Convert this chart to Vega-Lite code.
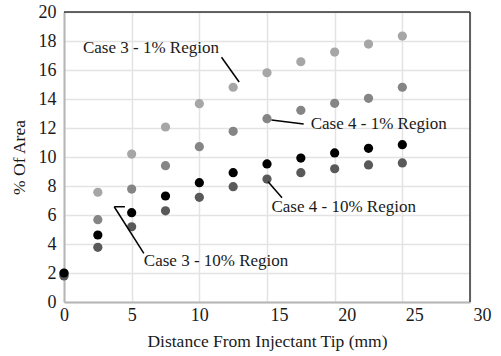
{
  "$schema": "https://vega.github.io/schema/vega-lite/v6.json",
  "width": 406,
  "height": 290,
  "autosize": "none",
  "padding": {"left": 64, "top": 12, "right": 31, "bottom": 54},
  "background": "white",
  "config": {
    "view": {"stroke": null},
    "font": "Liberation Serif",
    "axis": {
      "labelOverlap": false, "labelFont": "Liberation Serif", "titleFont": "Liberation Serif",
      "grid": true, "gridColor": "#e3e3e3", "gridWidth": 1.5,
      "ticks": false, "domainColor": "#b5b5b5", "domainWidth": 2,
      "labelFontSize": 18, "labelColor": "#1a1a1a", "labelFlush": false,
      "titleFontSize": 17.5, "titleFontWeight": "normal", "titleColor": "#1a1a1a"
    },
    "axisX": {"tickCount": 6, "labelPadding": 4, "titlePadding": 8,
      "labelOffset": {"condition": {"test": "datum.value >= 15", "value": 12}, "value": 0}},
    "axisY": {"tickCount": 10, "labelPadding": 8, "titlePadding": 10},
    "text": {"font": "Liberation Serif"}
  },
  "datasets": {
    "points": [
      {"series": "Case 3 - 1%", "x": 0, "y": 2.0},
      {"series": "Case 3 - 1%", "x": 2.5, "y": 7.57},
      {"series": "Case 3 - 1%", "x": 5, "y": 10.2},
      {"series": "Case 3 - 1%", "x": 7.5, "y": 12.07},
      {"series": "Case 3 - 1%", "x": 10, "y": 13.68},
      {"series": "Case 3 - 1%", "x": 12.5, "y": 14.81},
      {"series": "Case 3 - 1%", "x": 15, "y": 15.81},
      {"series": "Case 3 - 1%", "x": 17.5, "y": 16.57},
      {"series": "Case 3 - 1%", "x": 20, "y": 17.24},
      {"series": "Case 3 - 1%", "x": 22.5, "y": 17.79},
      {"series": "Case 3 - 1%", "x": 25, "y": 18.34},
      {"series": "Case 4 - 1%", "x": 0, "y": 1.9},
      {"series": "Case 4 - 1%", "x": 2.5, "y": 5.68},
      {"series": "Case 4 - 1%", "x": 5, "y": 7.79},
      {"series": "Case 4 - 1%", "x": 7.5, "y": 9.4},
      {"series": "Case 4 - 1%", "x": 10, "y": 10.71},
      {"series": "Case 4 - 1%", "x": 12.5, "y": 11.77},
      {"series": "Case 4 - 1%", "x": 15, "y": 12.64},
      {"series": "Case 4 - 1%", "x": 17.5, "y": 13.22},
      {"series": "Case 4 - 1%", "x": 20, "y": 13.7},
      {"series": "Case 4 - 1%", "x": 22.5, "y": 14.05},
      {"series": "Case 4 - 1%", "x": 25, "y": 14.81},
      {"series": "Case 4 - 10%", "x": 0, "y": 1.8},
      {"series": "Case 4 - 10%", "x": 2.5, "y": 3.77},
      {"series": "Case 4 - 10%", "x": 5, "y": 5.19},
      {"series": "Case 4 - 10%", "x": 7.5, "y": 6.29},
      {"series": "Case 4 - 10%", "x": 10, "y": 7.22},
      {"series": "Case 4 - 10%", "x": 12.5, "y": 7.95},
      {"series": "Case 4 - 10%", "x": 15, "y": 8.48},
      {"series": "Case 4 - 10%", "x": 17.5, "y": 8.92},
      {"series": "Case 4 - 10%", "x": 20, "y": 9.19},
      {"series": "Case 4 - 10%", "x": 22.5, "y": 9.45},
      {"series": "Case 4 - 10%", "x": 25, "y": 9.59},
      {"series": "Case 3 - 10%", "x": 0, "y": 2.0},
      {"series": "Case 3 - 10%", "x": 2.5, "y": 4.62},
      {"series": "Case 3 - 10%", "x": 5, "y": 6.16},
      {"series": "Case 3 - 10%", "x": 7.5, "y": 7.31},
      {"series": "Case 3 - 10%", "x": 10, "y": 8.23},
      {"series": "Case 3 - 10%", "x": 12.5, "y": 8.92},
      {"series": "Case 3 - 10%", "x": 15, "y": 9.52},
      {"series": "Case 3 - 10%", "x": 17.5, "y": 9.93},
      {"series": "Case 3 - 10%", "x": 20, "y": 10.28},
      {"series": "Case 3 - 10%", "x": 22.5, "y": 10.6},
      {"series": "Case 3 - 10%", "x": 25, "y": 10.85}
    ],
    "leaders": [
      {"x": 11.64, "y": 16.88, "x2": 12.94, "y2": 15.17},
      {"x": 15.33, "y": 12.55, "x2": 17.71, "y2": 12.28},
      {"x": 15.08, "y": 8.3, "x2": 16.11, "y2": 7.19},
      {"x": 4.5, "y": 6.57, "x2": 3.71, "y2": 6.57},
      {"x": 3.71, "y": 6.57, "x2": 5.9, "y2": 3.36}
    ],
    "labels": [
      {"x": 1.4, "y": 17.19, "text": "Case 3 - 1% Region"},
      {"x": 18.23, "y": 11.91, "text": "Case 4 - 1% Region"},
      {"x": 15.33, "y": 6.23, "text": "Case 4 - 10% Region"},
      {"x": 5.9, "y": 2.5, "text": "Case 3 - 10% Region"}
    ]
  },
  "layer": [
    {
      "data": {"name": "points"},
      "mark": {"type": "circle", "size": 85, "opacity": 1},
      "encoding": {
        "x": {"field": "x", "type": "quantitative", "scale": {"domain": [0, 30], "nice": false},
              "title": "Distance From Injectant Tip (mm)"},
        "y": {"field": "y", "type": "quantitative", "scale": {"domain": [0, 20], "nice": false},
              "title": "% Of Area"},
        "color": {
          "field": "series", "type": "nominal",
          "scale": {
            "domain": ["Case 3 - 1%", "Case 4 - 1%", "Case 4 - 10%", "Case 3 - 10%"],
            "range": ["#a6a6a6", "#858585", "#595959", "#000000"]
          },
          "legend": null
        }
      }
    },
    {
      "data": {"values": [{"y": 20}]},
      "mark": {"type": "rule", "color": "#333333", "strokeWidth": 1.5},
      "encoding": {"y": {"field": "y", "type": "quantitative", "title": "% Of Area"}}
    },
    {
      "data": {"values": [{"x": 30}]},
      "mark": {"type": "rule", "color": "#333333", "strokeWidth": 1.5},
      "encoding": {"x": {"field": "x", "type": "quantitative", "title": "Distance From Injectant Tip (mm)"}}
    },
    {
      "data": {"name": "leaders"},
      "mark": {"type": "rule", "color": "#000000", "strokeWidth": 1.5},
      "encoding": {
        "x": {"field": "x", "type": "quantitative", "title": "Distance From Injectant Tip (mm)"},
        "y": {"field": "y", "type": "quantitative", "title": "% Of Area"},
        "x2": {"field": "x2"},
        "y2": {"field": "y2"}
      }
    },
    {
      "data": {"name": "labels"},
      "mark": {"type": "text", "align": "left", "baseline": "alphabetic", "fontSize": 17, "color": "#1a1a1a"},
      "encoding": {
        "x": {"field": "x", "type": "quantitative", "title": "Distance From Injectant Tip (mm)"},
        "y": {"field": "y", "type": "quantitative", "title": "% Of Area"},
        "text": {"field": "text"}
      }
    }
  ]
}
